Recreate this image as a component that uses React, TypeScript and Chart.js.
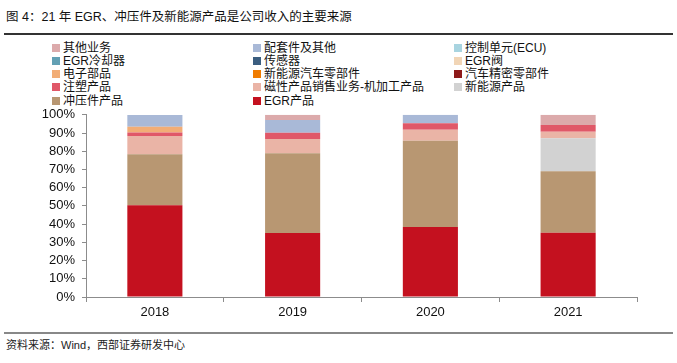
import React, { useEffect, useRef } from "react";
import { Chart, registerables } from "chart.js";

Chart.register(...registerables);

const years = ["2018", "2019", "2020", "2021"];
const yTicks = [0, 10, 20, 30, 40, 50, 60, 70, 80, 90, 100];

// series values (% of revenue), bottom of stack first
const egrProducts = [50.3, 35.1, 38.4, 35.3];
const stampingParts = [28.0, 43.8, 47.4, 33.7];
const newEnergyProducts = [0, 0, 0, 18.1];
const magneticMachining = [10.1, 7.8, 6.0, 3.6];
const injectionParts = [1.9, 3.5, 3.5, 3.7];
const precisionAutoParts = [0, 0, 0, 0];
const nevParts = [0, 0, 0, 0];
const electronicParts = [3.2, 0, 0, 0];
const egrValve = [0, 0, 0, 0];
const sensors = [0, 0, 0, 0];
const egrCooler = [0, 0, 0, 0];
const ecu = [0, 0, 0, 0];
const accessoriesOther = [6.4, 6.9, 4.7, 0];
const otherBusiness = [0, 2.9, 0, 5.6];

// legend order (row-major, 3 columns)
const legendNames = [
  "其他业务", "配套件及其他", "控制单元(ECU)",
  "EGR冷却器", "传感器", "EGR阀",
  "电子部品", "新能源汽车零部件", "汽车精密零部件",
  "注塑产品", "磁性产品销售业务-机加工产品", "新能源产品",
  "冲压件产品", "EGR产品",
];
const legendColors = [
  "#dcaaab", "#a9b9d7", "#a8d4e0",
  "#63a0b4", "#3b5e80", "#f1d5b6",
  "#f2ad76", "#f07c00", "#8e1a1a",
  "#e05868", "#eab4a6", "#d2d2d2",
  "#b89772", "#c4111f",
];
const legendValues = [
  otherBusiness, accessoriesOther, ecu,
  egrCooler, sensors, egrValve,
  electronicParts, nevParts, precisionAutoParts,
  injectionParts, magneticMachining, newEnergyProducts,
  stampingParts, egrProducts,
];

const FONT = '"Liberation Sans", Arial, "Noto Sans CJK SC", sans-serif';

export default function App() {
  const ref = useRef<HTMLCanvasElement | null>(null);

  useEffect(() => {
    document.body.style.margin = "0";
    if (!ref.current) return;
    const order = legendNames.map((_, i) => i).reverse();
    const datasets = order.map((i) => ({
      label: legendNames[i],
      data: legendValues[i],
      backgroundColor: legendColors[i],
      borderWidth: 0,
      stack: "s",
    }));
    const chart = new Chart(ref.current, {
      type: "bar",
      data: { labels: years, datasets },
      options: {
        animation: false,
        responsive: false,
        maintainAspectRatio: false,
        layout: { padding: { top: 2, right: 40, left: 0, bottom: 0 } },
        plugins: { legend: { display: false }, tooltip: { enabled: false } },
        datasets: { bar: { categoryPercentage: 1, barPercentage: 0.4 } },
        scales: {
          x: {
            stacked: true,
            grid: { offset: true, drawOnChartArea: false, tickLength: 5, color: "#8c8c8c" },
            border: { color: "#8c8c8c", width: 1 },
            ticks: { font: { family: FONT, size: 13 }, color: "#111", padding: 3 },
            afterFit: (s: any) => { s.height = 33; },
          },
          y: {
            stacked: true,
            min: 0,
            max: 100,
            afterBuildTicks: (s: any) => { s.ticks = yTicks.map((v) => ({ value: v })); },
            grid: { drawOnChartArea: false, tickLength: 4, color: "#8c8c8c" },
            border: { color: "#8c8c8c", width: 1 },
            ticks: {
              autoSkip: false,
              font: { family: FONT, size: 13 },
              color: "#111",
              padding: 7,
              callback: (v: any) => v + "%",
            },
            afterFit: (s: any) => { s.width = 86; },
          },
        },
      },
    });
    return () => chart.destroy();
  }, []);

  const colX = [52, 253, 454];
  return (
    <div style={{ position: "relative", width: 677, height: 363, background: "#fff", overflow: "hidden", fontFamily: FONT }}>
      <div style={{ position: "absolute", left: 6, top: 9, fontSize: 12.5, color: "#111", whiteSpace: "nowrap", lineHeight: "16px" }}>
        图 4：21 年 EGR、冲压件及新能源产品是公司收入的主要来源
      </div>
      <div style={{ position: "absolute", left: 4, top: 33, width: 669, height: 2, background: "#333" }} />
      {legendNames.map((name, i) => {
        const col = i % 3;
        const row = Math.floor(i / 3);
        const cy = 47.5 + row * 13.3;
        return (
          <div key={name} style={{ position: "absolute", left: colX[col], top: cy - 7, height: 14, display: "flex", alignItems: "center", whiteSpace: "nowrap" }}>
            <span style={{ display: "inline-block", width: 8, height: 8, background: legendColors[i], marginRight: 3 }} />
            <span style={{ fontSize: 12, color: "#111", lineHeight: "14px" }}>{name}</span>
          </div>
        );
      })}
      <canvas ref={ref} width={677} height={230} style={{ position: "absolute", left: 0, top: 100, width: 677, height: 230 }} />
      <div style={{ position: "absolute", left: 4, top: 332, width: 669, height: 2, background: "#888" }} />
      <div style={{ position: "absolute", left: 6, top: 338, fontSize: 11, color: "#222", whiteSpace: "nowrap", lineHeight: "14px" }}>
        资料来源：Wind，西部证券研发中心
      </div>
    </div>
  );
}
